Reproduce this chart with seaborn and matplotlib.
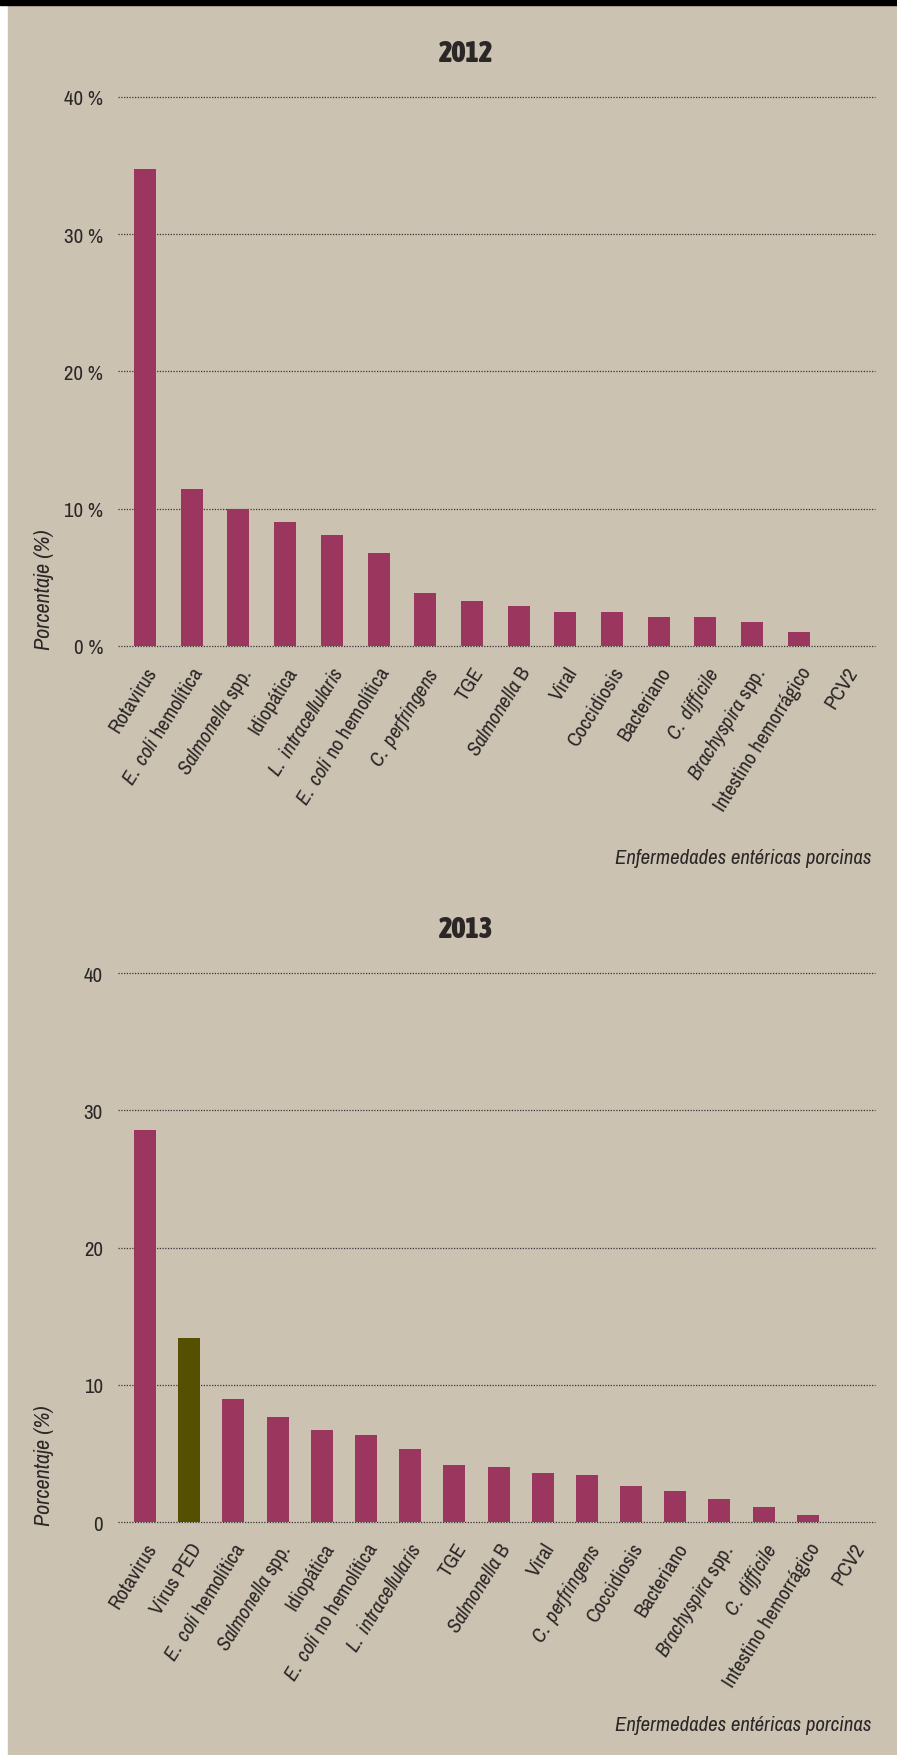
#Enfermedades entericas porcinas 2012 / 2013
import matplotlib
matplotlib.use('Agg')
import matplotlib.pyplot as plt
from matplotlib import font_manager as fm
from matplotlib.patches import Rectangle
import seaborn as sns

#Data (percent)
labels_2012 = ['Rotavirus', 'E. coli hemolítica', 'Salmonella spp.', 'Idiopática',
               'L. intracellularis', 'E. coli no hemolítica', 'C. perfringens', 'TGE',
               'Salmonella B', 'Viral', 'Coccidiosis', 'Bacteriano', 'C. difficile',
               'Brachyspira spp.', 'Intestino hemorrágico', 'PCV2']
values_2012 = [34.7, 11.4, 10.0, 9.05, 8.1, 6.8, 3.86, 3.28, 2.91, 2.48, 2.48, 2.11, 2.11,
               1.75, 1.02, 0.0]

labels_2013 = ['Rotavirus', 'Virus PED', 'E. coli hemolítica', 'Salmonella spp.', 'Idiopática',
               'E. coli no hemolítica', 'L. intracellularis', 'TGE', 'Salmonella B', 'Viral',
               'C. perfringens', 'Coccidiosis', 'Bacteriano', 'Brachyspira spp.', 'C. difficile',
               'Intestino hemorrágico', 'PCV2']
values_2013 = [28.6, 13.4, 9.0, 7.65, 6.75, 6.34, 5.34, 4.17, 4.03, 3.59, 3.45, 2.64, 2.28,
               1.70, 1.11, 0.53, 0.0]
highlight_2013 = 'Virus PED'

yticks = [0, 10, 20, 30, 40]
ytick_labels_2012 = ['0 %', '10 %', '20 %', '30 %', '40 %']
ytick_labels_2013 = ['0', '10', '20', '30', '40']
italic_prefixes = ['E. coli', 'Salmonella', 'L. intracellularis', 'C. perfringens',
                   'C. difficile', 'Brachyspira']

#Colours
bg = '#CCC2B1'
bar_col = '#9B375E'
ped_col = '#554F00'
txt = '#2B2727'

#pick a narrow font if there is one
names = {f.name for f in fm.fontManager.ttflist}
fam = 'DejaVu Sans'
for cand in ['Archivo Narrow', 'Liberation Sans Narrow', 'Asap Condensed']:
    if cand in names:
        fam = cand
        break
title_fam = 'Asap Condensed' if 'Asap Condensed' in names else fam

sns.set_style('white')
plt.rcParams['font.family'] = [fam, 'DejaVu Sans']
if fam == 'DejaVu Sans':
    plt.rcParams['font.stretch'] = 'condensed'
plt.rcParams['mathtext.fontset'] = 'custom'
plt.rcParams['mathtext.rm'] = fam
plt.rcParams['mathtext.it'] = fam + ':italic'
plt.rcParams['mathtext.bf'] = fam + ':bold'
plt.rcParams['text.color'] = txt
plt.rcParams['axes.labelcolor'] = txt
plt.rcParams['xtick.color'] = txt
plt.rcParams['ytick.color'] = txt

W, H = 897, 1756


def italicize(lbl):
    for p in italic_prefixes:
        if lbl.startswith(p):
            return r'$\mathit{' + p.replace(' ', r'\ ') + '}$' + lbl[len(p):]
    return lbl


def draw(ax, labels, values, colors, width, xlim, ylabels, xlabel_y):
    sns.barplot(x=labels, y=values, hue=labels, palette=colors, dodge=False, legend=False,
                width=width, saturation=1, linewidth=0, ax=ax)
    ax.set_facecolor('none')
    for s in ax.spines.values():
        s.set_visible(False)
    ax.set_xlim(*xlim)
    ax.set_ylim(0, 40)
    ax.set_axisbelow(True)
    ax.yaxis.grid(True, linestyle=(0, (1, 1.2)), color='#3A3434', linewidth=0.9)
    ax.xaxis.grid(False)
    ax.set_yticks(yticks)
    ax.set_yticklabels(ylabels)
    for gl in ax.get_ygridlines():
        gl.set_clip_on(False)
    ax.tick_params(axis='y', length=0, pad=10.8, labelsize=15)
    ax.set_xticks(range(len(labels)))
    ax.set_xticklabels([italicize(l) for l in labels], rotation=58, ha='right', va='top',
                       rotation_mode='anchor', fontsize=15)
    ax.tick_params(axis='x', length=0, pad=12.2)
    ax.set_ylabel('Porcentaje (%)', fontstyle='italic', fontsize=16, loc='bottom')
    ax.yaxis.set_label_coords((54 - 118) / 757, -3 / 549.3)
    ax.set_xlabel('Enfermedades entéricas porcinas', fontstyle='italic', fontsize=15, loc='right')
    ax.xaxis.set_label_coords((871 - 118) / 757, xlabel_y)


fig = plt.figure(figsize=(W / 100, H / 100), dpi=100)
fig.patch.set_facecolor('white')
fig.patches.append(Rectangle((8 / W, 0), 1, 1, transform=fig.transFigure, color=bg, zorder=-10))
fig.patches.append(Rectangle((0, 1 - 6 / H), 1, 6 / H, transform=fig.transFigure, color='black', zorder=-9))

ax1 = fig.add_axes([118 / W, 1 - 647 / H, 757 / W, (647 - 97.7) / H])
draw(ax1, labels_2012, values_2012, [bar_col] * len(labels_2012), 0.471,
     (-0.578, 15.63), ytick_labels_2012, -0.368)

ax2 = fig.add_axes([118 / W, 1 - 1523.3 / H, 757 / W, (1523.3 - 974) / H])
cols_2013 = [ped_col if l == highlight_2013 else bar_col for l in labels_2013]
draw(ax2, labels_2013, values_2013, cols_2013, 0.498,
     (-0.611, 16.52), ytick_labels_2013, -0.351)

fig.text(466.5 / W, 1 - 53 / H, '2012', ha='center', va='center', fontsize=21,
         fontweight='black', family=title_fam)
fig.text(466.5 / W, 1 - 930 / H, '2013', ha='center', va='center', fontsize=21,
         fontweight='black', family=title_fam)

fig.savefig('out.png', dpi=100)
